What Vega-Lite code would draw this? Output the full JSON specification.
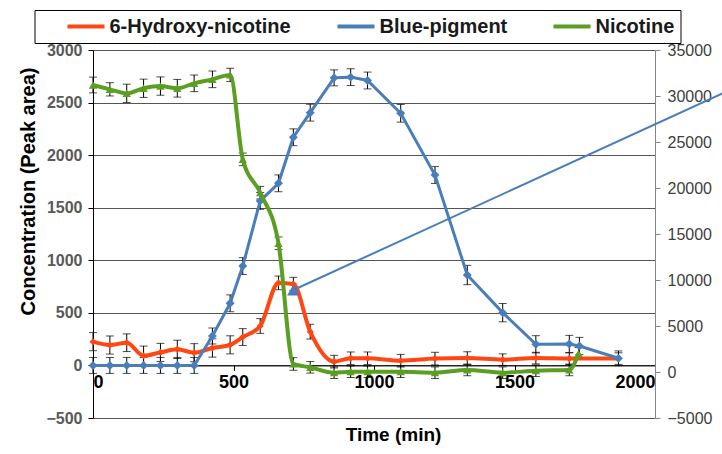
{
"$schema": "https://vega.github.io/schema/vega-lite/v6.json",
"width": 562, "height": 368,
"autosize": "none",
"padding": {"left": 93, "top": 50, "right": 67, "bottom": 36},
"background": "white",
"config": {
"view": {"stroke": null},
"font": "Liberation Sans",
"axis": {"labelFont": "Liberation Sans", "titleFont": "Liberation Sans"},
"axisX": {"offset": -52.57, "grid": false, "tickCount": 5, "domainColor": "black", "tickColor": "black", "tickSize": 5, "labelFontSize": 18, "labelFontWeight": "bold", "labelColor": "black", "labelPadding": 3, "titleFontSize": 19, "titleFontWeight": "bold", "titleColor": "black", "titleX": 300, "titleY": 69, "titleBaseline": "middle", "titleAlign": "center"},
"axisLeft": {"grid": true, "tickCount": 8, "gridColor": "#555555", "gridWidth": 1, "domainColor": "black", "tickColor": "black", "tickSize": 5, "labelFontSize": 16, "labelFontWeight": "bold", "labelColor": "#595959", "labelPadding": 6, "titleFontSize": 20, "titleFontWeight": "bold", "titleColor": "black", "titleX": -65, "titleY": 141, "titleAngle": 270, "titleAlign": "center", "titleBaseline": "middle"},
"legend": {"labelFont": "Liberation Sans", "titleFont": "Liberation Sans"}
},
"datasets": {
"main": [
{"s":"6-Hydroxy-nicotine","t":0,"v":226,"e":86},
{"s":"6-Hydroxy-nicotine","t":60,"v":194,"e":86},
{"s":"6-Hydroxy-nicotine","t":120,"v":216,"e":84},
{"s":"6-Hydroxy-nicotine","t":180,"v":92,"e":92},
{"s":"6-Hydroxy-nicotine","t":240,"v":124,"e":86},
{"s":"6-Hydroxy-nicotine","t":300,"v":153,"e":87},
{"s":"6-Hydroxy-nicotine","t":360,"v":121,"e":86},
{"s":"6-Hydroxy-nicotine","t":425,"v":166,"e":87},
{"s":"6-Hydroxy-nicotine","t":488,"v":196,"e":86},
{"s":"6-Hydroxy-nicotine","t":533,"v":270,"e":80},
{"s":"6-Hydroxy-nicotine","t":595,"v":375,"e":70},
{"s":"6-Hydroxy-nicotine","t":660,"v":785,"e":65},
{"s":"6-Hydroxy-nicotine","t":713,"v":775,"e":63},
{"s":"6-Hydroxy-nicotine","t":773,"v":321,"e":70},
{"s":"6-Hydroxy-nicotine","t":858,"v":36,"e":60},
{"s":"6-Hydroxy-nicotine","t":917,"v":68,"e":60},
{"s":"6-Hydroxy-nicotine","t":977,"v":68,"e":60},
{"s":"6-Hydroxy-nicotine","t":1095,"v":45,"e":60},
{"s":"6-Hydroxy-nicotine","t":1217,"v":65,"e":60},
{"s":"6-Hydroxy-nicotine","t":1332,"v":70,"e":60},
{"s":"6-Hydroxy-nicotine","t":1458,"v":55,"e":55},
{"s":"6-Hydroxy-nicotine","t":1576,"v":70,"e":55},
{"s":"6-Hydroxy-nicotine","t":1695,"v":65,"e":55},
{"s":"6-Hydroxy-nicotine","t":1870,"v":65,"e":55},
{"s":"Blue-pigment","t":0,"v":0,"e":76},
{"s":"Blue-pigment","t":60,"v":0,"e":76},
{"s":"Blue-pigment","t":120,"v":0,"e":76},
{"s":"Blue-pigment","t":180,"v":0,"e":76},
{"s":"Blue-pigment","t":240,"v":0,"e":76},
{"s":"Blue-pigment","t":300,"v":0,"e":76},
{"s":"Blue-pigment","t":360,"v":0,"e":76},
{"s":"Blue-pigment","t":425,"v":280,"e":76},
{"s":"Blue-pigment","t":488,"v":591,"e":80},
{"s":"Blue-pigment","t":533,"v":945,"e":80},
{"s":"Blue-pigment","t":595,"v":1565,"e":80},
{"s":"Blue-pigment","t":660,"v":1732,"e":80},
{"s":"Blue-pigment","t":713,"v":2170,"e":80},
{"s":"Blue-pigment","t":773,"v":2404,"e":80},
{"s":"Blue-pigment","t":858,"v":2735,"e":76},
{"s":"Blue-pigment","t":917,"v":2742,"e":80},
{"s":"Blue-pigment","t":977,"v":2710,"e":80},
{"s":"Blue-pigment","t":1095,"v":2398,"e":84},
{"s":"Blue-pigment","t":1217,"v":1811,"e":80},
{"s":"Blue-pigment","t":1332,"v":860,"e":92},
{"s":"Blue-pigment","t":1458,"v":502,"e":87},
{"s":"Blue-pigment","t":1576,"v":201,"e":82},
{"s":"Blue-pigment","t":1695,"v":204,"e":82},
{"s":"Blue-pigment","t":1731,"v":185,"e":82},
{"s":"Blue-pigment","t":1870,"v":68,"e":70},
{"s":"Nicotine","t":0,"v":2667,"e":75},
{"s":"Nicotine","t":60,"v":2626,"e":63},
{"s":"Nicotine","t":120,"v":2588,"e":87},
{"s":"Nicotine","t":180,"v":2636,"e":87},
{"s":"Nicotine","t":240,"v":2657,"e":87},
{"s":"Nicotine","t":300,"v":2636,"e":84},
{"s":"Nicotine","t":360,"v":2683,"e":79},
{"s":"Nicotine","t":425,"v":2721,"e":79},
{"s":"Nicotine","t":488,"v":2763,"e":63},
{"s":"Nicotine","t":533,"v":1960,"e":60},
{"s":"Nicotine","t":595,"v":1643,"e":60},
{"s":"Nicotine","t":660,"v":1162,"e":60},
{"s":"Nicotine","t":713,"v":14,"e":60},
{"s":"Nicotine","t":773,"v":-18,"e":55},
{"s":"Nicotine","t":858,"v":-69,"e":55},
{"s":"Nicotine","t":917,"v":-60,"e":55},
{"s":"Nicotine","t":977,"v":-60,"e":55},
{"s":"Nicotine","t":1095,"v":-60,"e":55},
{"s":"Nicotine","t":1217,"v":-69,"e":55},
{"s":"Nicotine","t":1332,"v":-43,"e":55},
{"s":"Nicotine","t":1458,"v":-69,"e":55},
{"s":"Nicotine","t":1576,"v":-50,"e":55},
{"s":"Nicotine","t":1695,"v":-43,"e":55},
{"s":"Nicotine","t":1728,"v":115,"e":55}
],
"arrow": [
{"t":713,"r":8913},
{"t":2300,"r":31120}
]
},
"layer": [
{
"data": {"name": "main"},
"layer": [
{
"mark": {"type": "errorbar", "ticks": {"size": 8, "color": "black", "thickness": 1}, "rule": {"color": "black", "strokeWidth": 1}},
"encoding": {
"x": {"field": "t", "type": "quantitative", "scale": {"domain": [0, 2000], "nice": false}, "title": "Time (min)", "axis": {"format": "d"}},
"y": {"field": "v", "type": "quantitative", "scale": {"domain": [-500, 3000], "nice": false}, "title": "Concentration (Peak area)", "axis": {"format": "d"}},
"yError": {"field": "e"}
}
},
{
"transform": [{"filter": "datum.s === '6-Hydroxy-nicotine'"}],
"mark": {"type": "line", "interpolate": "monotone", "strokeWidth": 4},
"encoding": {
"x": {"field": "t", "type": "quantitative", "scale": {"domain": [0, 2000], "nice": false}, "title": "Time (min)", "axis": {"format": "d"}},
"y": {"field": "v", "type": "quantitative", "scale": {"domain": [-500, 3000], "nice": false}, "title": "Concentration (Peak area)", "axis": {"format": "d"}},
"color": {"field": "s", "type": "nominal",
"scale": {"domain": ["6-Hydroxy-nicotine", "Blue-pigment", "Nicotine"], "range": ["#FF4713", "#4A7EBB", "#5A9E22"]},
"legend": {"orient": "none", "legendX": -58.5, "legendY": -40, "direction": "horizontal", "title": "\u00a0", "titleOrient": "left", "titleFontSize": 20, "titlePadding": 25, "symbolType": "stroke", "symbolSize": 1369, "symbolStrokeWidth": 4, "clipHeight": 21, "labelFontSize": 20, "labelFontWeight": "bold", "labelColor": "#1a1a1a", "labelOffset": 3, "labelLimit": 0, "columnPadding": 44, "padding": 6, "strokeColor": "black"}}
}
},
{
"transform": [{"filter": "datum.s === '6-Hydroxy-nicotine'"}],
"mark": {"type": "point", "shape": "diamond", "filled": true, "size": 50, "color": "#FF4713", "opacity": 1},
"encoding": {
"x": {"field": "t", "type": "quantitative", "scale": {"domain": [0, 2000], "nice": false}, "title": "Time (min)", "axis": {"format": "d"}},
"y": {"field": "v", "type": "quantitative", "scale": {"domain": [-500, 3000], "nice": false}, "title": "Concentration (Peak area)", "axis": {"format": "d"}}
}
},
{
"transform": [{"filter": "datum.s === 'Blue-pigment'"}],
"mark": {"type": "line", "strokeWidth": 3},
"encoding": {
"x": {"field": "t", "type": "quantitative", "scale": {"domain": [0, 2000], "nice": false}, "title": "Time (min)", "axis": {"format": "d"}},
"y": {"field": "v", "type": "quantitative", "scale": {"domain": [-500, 3000], "nice": false}, "title": "Concentration (Peak area)", "axis": {"format": "d"}},
"color": {"field": "s", "type": "nominal", "scale": {"domain": ["6-Hydroxy-nicotine", "Blue-pigment", "Nicotine"], "range": ["#FF4713", "#4A7EBB", "#5A9E22"]}}
}
},
{
"transform": [{"filter": "datum.s === 'Blue-pigment'"}],
"mark": {"type": "point", "shape": "diamond", "filled": true, "size": 80, "color": "#4A7EBB", "opacity": 1},
"encoding": {
"x": {"field": "t", "type": "quantitative", "scale": {"domain": [0, 2000], "nice": false}, "title": "Time (min)", "axis": {"format": "d"}},
"y": {"field": "v", "type": "quantitative", "scale": {"domain": [-500, 3000], "nice": false}, "title": "Concentration (Peak area)", "axis": {"format": "d"}}
}
},
{
"transform": [{"filter": "datum.s === 'Nicotine'"}],
"mark": {"type": "line", "interpolate": "monotone", "strokeWidth": 4},
"encoding": {
"x": {"field": "t", "type": "quantitative", "scale": {"domain": [0, 2000], "nice": false}, "title": "Time (min)", "axis": {"format": "d"}},
"y": {"field": "v", "type": "quantitative", "scale": {"domain": [-500, 3000], "nice": false}, "title": "Concentration (Peak area)", "axis": {"format": "d"}},
"color": {"field": "s", "type": "nominal", "scale": {"domain": ["6-Hydroxy-nicotine", "Blue-pigment", "Nicotine"], "range": ["#FF4713", "#4A7EBB", "#5A9E22"]}}
}
},
{
"transform": [{"filter": "datum.s === 'Nicotine'"}],
"mark": {"type": "point", "shape": "triangle-up", "filled": true, "size": 70, "color": "#5A9E22", "opacity": 1},
"encoding": {
"x": {"field": "t", "type": "quantitative", "scale": {"domain": [0, 2000], "nice": false}, "title": "Time (min)", "axis": {"format": "d"}},
"y": {"field": "v", "type": "quantitative", "scale": {"domain": [-500, 3000], "nice": false}, "title": "Concentration (Peak area)", "axis": {"format": "d"}}
}
}
]
},
{
"data": {"name": "arrow"},
"layer": [
{
"mark": {"type": "line", "color": "#4A7EBB", "strokeWidth": 2},
"encoding": {
"x": {"field": "t", "type": "quantitative", "scale": {"domain": [0, 2000], "nice": false}, "title": "Time (min)", "axis": {"format": "d"}},
"y": {"field": "r", "type": "quantitative", "scale": {"domain": [-5000, 35000], "nice": false},
"axis": {"orient": "right", "title": null, "values": [-5000, 0, 5000, 10000, 15000, 20000, 25000, 30000, 35000], "format": "d", "grid": false, "domainColor": "#868686", "tickColor": "#868686", "tickSize": 5, "labelFontSize": 16, "labelFontWeight": "normal", "labelColor": "#404040", "labelPadding": 7}}
}
},
{
"transform": [{"filter": "datum.t < 1000"}],
"mark": {"type": "point", "shape": "triangle-up", "filled": true, "size": 160, "color": "#4A7EBB", "opacity": 1},
"encoding": {
"x": {"field": "t", "type": "quantitative", "scale": {"domain": [0, 2000], "nice": false}, "title": "Time (min)", "axis": {"format": "d"}},
"y": {"field": "r", "type": "quantitative", "scale": {"domain": [-5000, 35000], "nice": false},
"axis": {"orient": "right", "title": null, "values": [-5000, 0, 5000, 10000, 15000, 20000, 25000, 30000, 35000], "format": "d", "grid": false, "domainColor": "#868686", "tickColor": "#868686", "tickSize": 5, "labelFontSize": 16, "labelFontWeight": "normal", "labelColor": "#404040", "labelPadding": 7}}
}
}
]
}
],
"resolve": {"scale": {"y": "independent"}}
}
